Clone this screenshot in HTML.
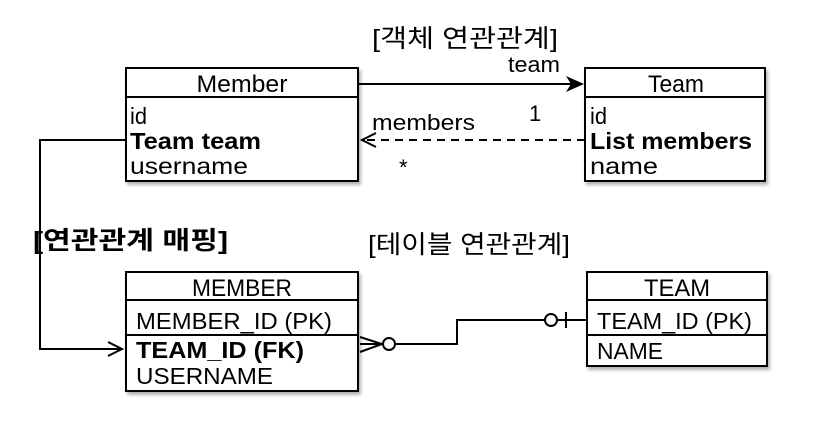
<!DOCTYPE html>
<html><head><meta charset="utf-8"><style>
html,body{margin:0;padding:0;background:#fff;}
svg text{font-family:"Liberation Sans","Noto Sans CJK KR",sans-serif;fill:#000;}
</style></head><body>
<svg width="814" height="436" viewBox="0 0 814 436" xmlns="http://www.w3.org/2000/svg">
<defs>
<filter id="sh" x="-5%" y="-5%" width="115%" height="115%"><feDropShadow dx="2" dy="3" stdDeviation="1.5" flood-color="#000" flood-opacity="0.3"/></filter>
</defs>
<text x="465" y="47" font-size="25" text-anchor="middle" textLength="186" lengthAdjust="spacingAndGlyphs">[객체 연관관계]</text>
<text x="33" y="249" font-size="25" font-weight="bold" textLength="195" lengthAdjust="spacingAndGlyphs">[연관관계 매핑]</text>
<text x="368" y="253" font-size="25" textLength="202" lengthAdjust="spacingAndGlyphs">[테이블 연관관계]</text>

<g filter="url(#sh)"><rect x="126" y="68" width="232" height="113" fill="#fff" stroke="#000" stroke-width="2"/></g>
<line x1="126" y1="97" x2="358" y2="97" stroke="#000" stroke-width="2"/>
<text x="242" y="92" font-size="24" text-anchor="middle" textLength="91" lengthAdjust="spacingAndGlyphs">Member</text>
<text x="130" y="124" font-size="23" textLength="17" lengthAdjust="spacingAndGlyphs">id</text>
<text x="130" y="149" font-size="23" font-weight="bold" textLength="131" lengthAdjust="spacingAndGlyphs">Team team</text>
<text x="130" y="174" font-size="23" textLength="118" lengthAdjust="spacingAndGlyphs">username</text>

<g filter="url(#sh)"><rect x="585" y="68" width="180" height="113" fill="#fff" stroke="#000" stroke-width="2"/></g>
<line x1="585" y1="97" x2="765" y2="97" stroke="#000" stroke-width="2"/>
<text x="676" y="92" font-size="24" text-anchor="middle" textLength="56" lengthAdjust="spacingAndGlyphs">Team</text>
<text x="590" y="124" font-size="23" textLength="17" lengthAdjust="spacingAndGlyphs">id</text>
<text x="590" y="149" font-size="23" font-weight="bold" textLength="162" lengthAdjust="spacingAndGlyphs">List members</text>
<text x="590" y="174" font-size="23" textLength="68" lengthAdjust="spacingAndGlyphs">name</text>

<line x1="358" y1="84" x2="578" y2="84" stroke="#000" stroke-width="2"/>
<polygon points="584,84 566,76 571,84 566,92" fill="#000"/>
<text x="508" y="72" font-size="22" textLength="52" lengthAdjust="spacingAndGlyphs">team</text>
<text x="529" y="121" font-size="22">1</text>
<text x="372" y="130" font-size="22" textLength="103" lengthAdjust="spacingAndGlyphs">members</text>
<line x1="585" y1="140" x2="364" y2="140" stroke="#000" stroke-width="2" stroke-dasharray="8,6"/>
<polyline points="376,133 362,140 376,147" fill="none" stroke="#000" stroke-width="2"/>
<text x="399" y="175" font-size="22">*</text>

<polyline points="126,140 40,140 40,349 120,349" fill="none" stroke="#000" stroke-width="2"/>
<polyline points="108,342 122,349 108,356" fill="none" stroke="#000" stroke-width="2"/>

<g filter="url(#sh)"><rect x="126" y="272" width="232" height="119" fill="#fff" stroke="#000" stroke-width="2"/></g>
<line x1="126" y1="300" x2="358" y2="300" stroke="#000" stroke-width="2"/>
<line x1="126" y1="335" x2="358" y2="335" stroke="#000" stroke-width="2"/>
<text x="242" y="296" font-size="24" text-anchor="middle" textLength="100" lengthAdjust="spacingAndGlyphs">MEMBER</text>
<text x="136" y="329" font-size="23" textLength="196" lengthAdjust="spacingAndGlyphs">MEMBER_ID (PK)</text>
<text x="136" y="358" font-size="23" font-weight="bold" textLength="168" lengthAdjust="spacingAndGlyphs">TEAM_ID (FK)</text>
<text x="136" y="384" font-size="23" textLength="137" lengthAdjust="spacingAndGlyphs">USERNAME</text>

<g filter="url(#sh)"><rect x="587" y="272" width="180" height="94" fill="#fff" stroke="#000" stroke-width="2"/></g>
<line x1="587" y1="300" x2="767" y2="300" stroke="#000" stroke-width="2"/>
<line x1="587" y1="335" x2="767" y2="335" stroke="#000" stroke-width="2"/>
<text x="677" y="296" font-size="24" text-anchor="middle" textLength="66" lengthAdjust="spacingAndGlyphs">TEAM</text>
<text x="597" y="329" font-size="23" textLength="155" lengthAdjust="spacingAndGlyphs">TEAM_ID (PK)</text>
<text x="597" y="359" font-size="23" textLength="66" lengthAdjust="spacingAndGlyphs">NAME</text>

<polyline points="360,337 382,344 360,352" fill="none" stroke="#000" stroke-width="2"/>
<line x1="360" y1="344" x2="382" y2="344" stroke="#000" stroke-width="2"/>
<circle cx="389" cy="344" r="6" fill="#fff" stroke="#000" stroke-width="2"/>
<polyline points="395,344 457,344 457,320 545,320" fill="none" stroke="#000" stroke-width="2"/>
<circle cx="551" cy="320" r="6" fill="#fff" stroke="#000" stroke-width="2"/>
<line x1="557" y1="320" x2="587" y2="320" stroke="#000" stroke-width="2"/>
<line x1="566" y1="312" x2="566" y2="328" stroke="#000" stroke-width="2"/>
</svg>
</body></html>
